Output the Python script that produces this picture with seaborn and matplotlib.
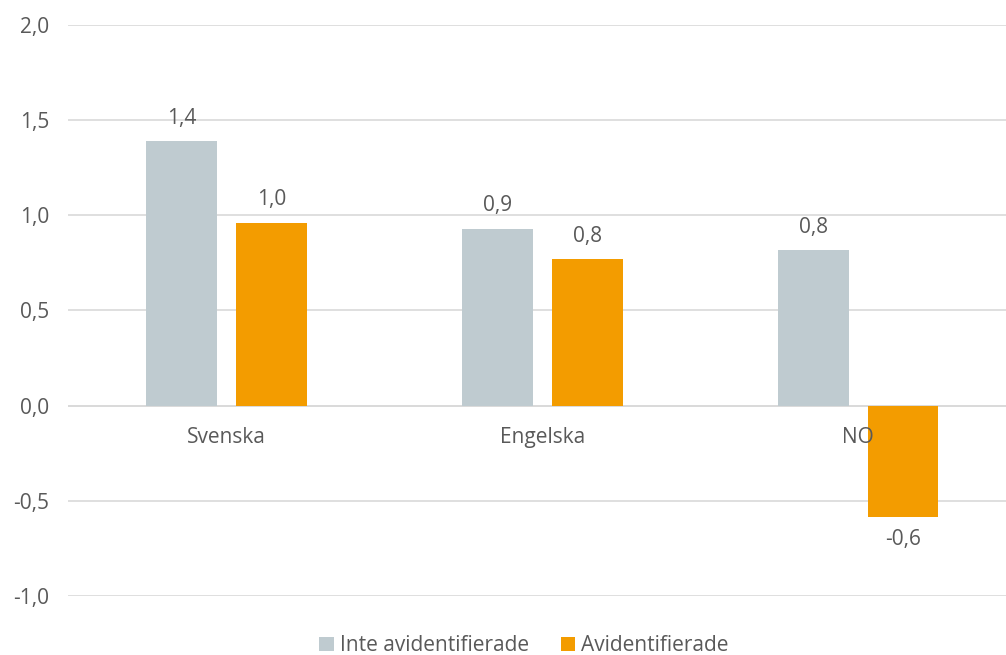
import pandas as pd
import seaborn as sns
import matplotlib.pyplot as plt
from matplotlib.ticker import FuncFormatter

categories = ["Svenska", "Engelska", "NO"]
inte_avid = [1.39, 0.93, 0.816]
avid = [0.96, 0.77, -0.584]
series = ["Inte avidentifierade", "Avidentifierade"]
colors = ["#BFCBD0", "#F39C00"]

df = pd.DataFrame({
    "kategori": categories * 2,
    "serie": [series[0]] * 3 + [series[1]] * 3,
    "varde": inte_avid + avid,
})

sns.set_style("white")
plt.rcParams["font.family"] = ["Open Sans", "DejaVu Sans"]
text_color = "#595959"
fs = 15

fig = plt.figure(figsize=(10.06, 6.55), dpi=100)
ax = fig.add_axes([0.068, 0.09, 0.932, 0.872])

sns.barplot(data=df, x="kategori", y="varde", hue="serie",
            palette=colors, width=0.568, gap=0.211, ax=ax,
            saturation=1, linewidth=0)
handles, labs = ax.get_legend_handles_labels()
ax.legend_.remove()

ax.set_ylim(-1.0, 2.0)
ax.set_xlim(-0.50, 2.468)
ax.set_yticks([-1.0, -0.5, 0.0, 0.5, 1.0, 1.5, 2.0])
ax.yaxis.set_major_formatter(FuncFormatter(lambda v, p: f"{v:.1f}".replace(".", ",")))
ax.grid(axis="y", color="#D9D9D9", linewidth=1.2)
ax.set_axisbelow(True)
for s in ["top", "right", "left", "bottom"]:
    ax.spines[s].set_visible(False)
ax.axhline(0, color="#D9D9D9", linewidth=1.2, zorder=0.6)
ax.set_xticklabels([])
ax.tick_params(axis="both", length=0, labelsize=fs, labelcolor=text_color)
ax.tick_params(axis="y", pad=14)
ax.set_xlabel("")
ax.set_ylabel("")

# category labels sit just under the zero line, drawn over the bars
for i, cat in enumerate(categories):
    ax.annotate(cat, (i, 0), xytext=(0, -32), textcoords="offset pixels",
                ha="center", va="center", fontsize=fs, color=text_color, zorder=5)

for cont in ax.containers:
    labels = [f"{v:.1f}".replace(".", ",") for v in cont.datavalues]
    ax.bar_label(cont, labels=labels, padding=9, fontsize=fs, color=text_color)

fig.legend(handles, labs, loc="center", bbox_to_anchor=(0.521, 0.014),
           ncol=2, frameon=False, fontsize=fs, labelcolor=text_color,
           handlelength=0.7, handleheight=0.7, handletextpad=0.3, columnspacing=1.5)

fig.savefig("out.png", dpi=100)
